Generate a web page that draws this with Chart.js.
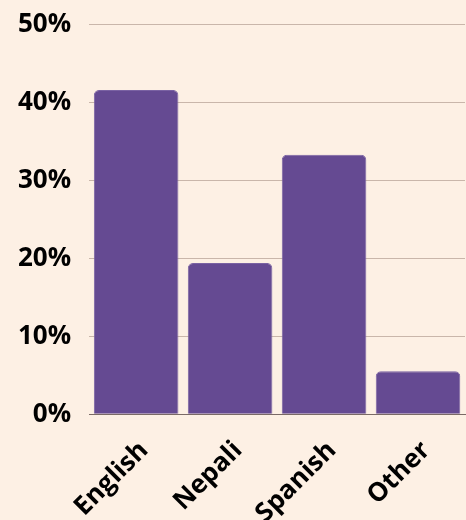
<!DOCTYPE html>
<html>
<head>
<meta charset="utf-8">
<script src="https://cdn.jsdelivr.net/npm/chart.js@4/dist/chart.umd.min.js"></script>
<style>
  html, body { margin: 0; padding: 0; background: #fdf0e4; overflow: hidden; }
  body { width: 466px; height: 520px; position: relative; }
  #wrap { position: absolute; left: 0; top: -9px; width: 466px; height: 559px; }
</style>
</head>
<body>
<div id="wrap"><canvas id="langChart"></canvas></div>
<script>
// languages spoken, share of respondents
const categories = ['English', 'Nepali', 'Spanish', 'Other'];
const shares = [41.6, 19.4, 33.3, 5.5];
const yTicks = [0, 10, 20, 30, 40, 50];

const ctx = document.getElementById('langChart').getContext('2d');
new Chart(ctx, {
    type: 'bar',
    data: {
        labels: categories,
        datasets: [{
            data: shares,
            backgroundColor: '#654a92',
            borderColor: '#7a62a3',
            borderWidth: 1,
            borderSkipped: 'bottom',
            borderRadius: { topLeft: 5, topRight: 5 },
            barPercentage: 0.9,
            categoryPercentage: 1.0
        }]
    },
    options: {
        responsive: true,
        maintainAspectRatio: false,
        animation: false,
        layout: { padding: { left: 0, right: 1, top: 0, bottom: 0 } },
        plugins: {
            legend: { display: false },
            tooltip: { enabled: false }
        },
        scales: {
            x: {
                grid: { display: false, drawTicks: false },
                border: { display: true, color: '#7a6a66', width: 1 },
                ticks: {
                    color: '#000',
                    font: { family: 'Open Sans', size: 26, weight: 'bold' },
                    minRotation: 45,
                    maxRotation: 45,
                    padding: 21,
                    labelOffset: 8
                }
            },
            y: {
                min: 0,
                max: 50,
                afterBuildTicks: axis => { axis.ticks = yTicks.map(v => ({ value: v })); },
                grid: { color: '#c9b6aa', drawTicks: false },
                border: { display: false },
                ticks: {
                    color: '#000',
                    font: { family: 'Open Sans', size: 26, weight: 'bold' },
                    padding: 18,
                    callback: v => v + '%'
                }
            }
        }
    }
});
</script>
</body>
</html>
